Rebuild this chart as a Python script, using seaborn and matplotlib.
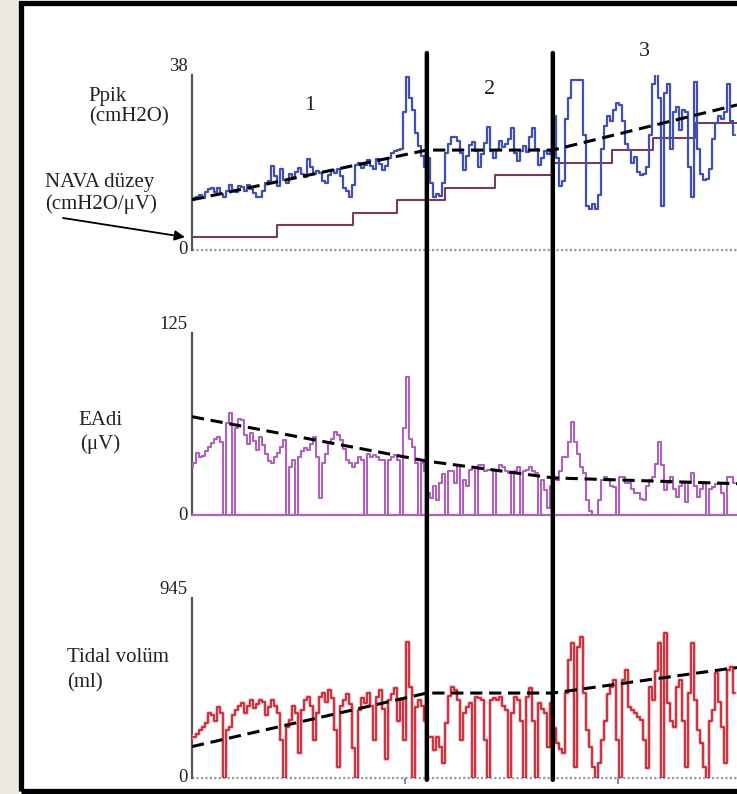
import numpy as np
import pandas as pd
import matplotlib
matplotlib.use("Agg")
import matplotlib.pyplot as plt
import seaborn as sns
from matplotlib.patches import Rectangle, ConnectionPatch

# ---------------- data ----------------
ppik = [10.9, 11.2, 11.5, 12.0, 11.4, 12.5, 13.2, 13.5, 12.6, 13.4,
        12.2, 11.5, 12.8, 14.1, 13.0, 12.6, 13.8, 13.6, 12.9, 14.2,
        13.2, 12.4, 11.6, 11.5, 12.8, 14.6, 15.0, 18.2, 16.0, 14.0,
        17.6, 15.2, 14.5, 16.5, 15.8, 17.0, 17.8, 16.4, 15.8, 19.8,
        18.0, 16.4, 17.2, 16.7, 15.0, 14.6, 16.2, 17.4, 16.8, 17.6,
        16.0, 13.4, 12.8, 11.5, 14.2, 18.5, 18.9, 17.8, 18.4, 19.6,
        18.2, 17.6, 19.8, 18.6, 17.4, 18.2, 20.0, 21.0, 21.4, 21.7,
        22.0, 30.0, 37.6, 33.0, 30.4, 25.5, 22.6, 20.5, 18.0, 20.0,
        14.6, 11.5, 12.2, 11.8, 14.6, 21.0, 23.0, 24.5, 24.5, 23.6,
        21.0, 17.4, 20.4, 22.8, 23.4, 21.5, 18.0, 20.8, 23.2, 26.7,
        21.4, 20.0, 21.8, 23.6, 22.4, 23.0, 24.0, 26.5, 21.0, 19.4,
        21.6, 22.5, 21.2, 24.6, 26.5, 22.0, 18.5, 20.0, 21.6, 20.8,
        21.4, 29.0, 20.0, 14.0, 15.0, 28.5, 33.0, 37.0, 37.0, 37.0,
        37.0, 25.0, 9.5, 9.0, 10.0, 9.0, 12.0, 22.0, 27.0, 29.0,
        28.0, 30.5, 32.0, 31.5, 28.0, 23.0, 21.7, 19.0, 20.2, 17.0,
        16.2, 16.5, 18.0, 25.0, 36.0, 38.5, 33.0, 9.5, 34.0, 36.0,
        22.0, 30.0, 31.0, 26.0, 30.5, 30.0, 18.0, 11.5, 36.5, 22.0,
        16.5, 15.2, 15.5, 17.5, 24.0, 27.6, 29.0, 28.5, 30.0, 36.0,
        28.0, 25.0]

nava_change = [0, 28.3, 53.7, 68.3, 84.3, 101.0, 120.3, 140.0, 153.7, 167.7, 181.7]
nava_level = [2.8, 5.4, 8.0, 10.9, 13.5, 16.3, 18.9, 21.7, 24.3, 27.6, 27.6]

eadi = [33, 36, 42.4, 40, 40.5, 44, 47, 49.5, 52, 53.8,
        50, 0, 63, 70, 0, 60, 66, 65, 55, 49,
        56, 51, 44.5, 53.8, 48, 42, 37, 35.5, 40, 42.4,
        47, 51.5, 0, 33, 38, 0, 40, 44, 46, 44.5,
        49, 53.8, 40, 12, 35.5, 42, 49.2, 52, 57.2, 55,
        51.5, 45, 38, 36, 33, 36, 40, 38, 0, 42,
        40, 41, 40, 38, 37.9, 0, 38, 40, 41, 38,
        0, 60, 95, 52, 46.9, 35.5, 0, 35.5, 30, 15,
        12, 20, 10, 22, 28, 0, 30, 30, 22, 34.4,
        0, 24, 20, 31, 33, 0, 34, 34.4, 30, 31,
        31, 0, 30, 34.4, 33, 30, 28.6, 0, 30, 33.2,
        0, 30, 31, 33.2, 30, 28.6, 0, 24, 17, 5,
        20, 26, 24, 30, 40, 40, 50, 64, 50, 42,
        33, 28.6, 10, 3, 0, 0, 10, 24, 26, 24,
        20, 19.5, 0, 26, 26, 22, 21.7, 18, 15, 14.9,
        11, 10.3, 20, 24, 26.3, 35, 50, 34.4, 17.2, 22,
        26.3, 18, 12.6, 20, 21.7, 9.2, 22, 28.6, 20, 12.6,
        18, 21.7, 0, 18, 19.5, 21, 21.7, 15, 0, 26.3,
        26, 21.7]

tidal = [215, 215, 230, 250, 268, 290, 341, 330, 300, 374,
         340, 0, 250, 268, 330, 357, 380, 394, 340, 380,
         410, 370, 390, 409, 399, 330, 374, 409, 380, 340,
         199, 0, 268, 304, 380, 340, 130, 357, 409, 427,
         380, 200, 340, 427, 444, 400, 462, 420, 250, 60,
         380, 409, 440, 390, 160, 0, 357, 420, 392, 444,
         380, 200, 427, 462, 360, 100, 409, 440, 470, 300,
         409, 199, 714, 478, 0, 374, 409, 380, 300, 217,
         217, 147, 217, 164, 77, 287, 430, 479, 462, 409,
         199, 340, 374, 392, 0, 427, 420, 409, 200, 0,
         409, 420, 409, 427, 380, 357, 0, 340, 427, 409,
         300, 0, 427, 471, 300, 0, 392, 360, 340, 164,
         392, 260, 182, 150, 130, 444, 620, 707, 59, 689,
         742, 444, 250, 164, 60, 0, 77, 200, 300, 440,
         479, 514, 200, 0, 514, 567, 374, 357, 340, 320,
         304, 200, 50, 479, 409, 560, 707, 0, 759, 392,
         300, 269, 479, 514, 300, 60, 444, 707, 409, 250,
         182, 59, 0, 300, 357, 549, 400, 269, 77, 567,
         584, 444]

sample = np.arange(len(ppik))

trend_x = [0, 78.3, 120.3, 181.7]
ppik_trend = [10.9, 21.7, 21.7, 31.5]
eadi_trend = [67.5, 37.0, 25.5, 21.5]
tidal_trend = [165, 446, 446, 580]

phase_bounds = [78.3, 120.3]
phase_labels = ["1", "2", "3"]
x_end = 181.7
x_ticks_bottom = [71, 142]
y_max = [38, 125, 945]

# ---------------- style ----------------
sns.set_theme(style="white")
plt.rcParams['font.family'] = ['Liberation Serif', 'DejaVu Serif']

C_PPIK = '#4050B6'
C_NAVA = '#7A3A5C'
C_EADI = '#AE62BD'
C_TV = '#C21F28'
C_TV_LIGHT = '#F4B3BC'
TXT = '#222222'

W, H = 737, 794
fig = plt.figure(figsize=(W / 100, H / 100), dpi=100)
fig.patch.set_facecolor('white')

def fx(px):
    return px / W

def fy(py):
    return 1 - py / H

# beige margin and black frame
fig.add_artist(Rectangle((0, 0), fx(19), 1, transform=fig.transFigure,
                         facecolor='#ECEAE1', edgecolor='none', zorder=0))
fig.add_artist(Rectangle((fx(20.5), fy(790.5)), 1.2, fy(2.5) - fy(790.5),
                         transform=fig.transFigure, facecolor='none',
                         edgecolor='black', lw=3.8, zorder=10, clip_on=False))

def make_ax(top_px, bottom_px):
    ax = fig.add_axes([fx(192), fy(bottom_px), fx(W) - fx(192), (bottom_px - top_px) / H])
    ax.set_facecolor('none')
    for s in ['top', 'right', 'bottom']:
        ax.spines[s].set_visible(False)
    ax.spines['left'].set_color('#555555')
    ax.spines['left'].set_linewidth(1.6)
    ax.set_xlim(0, x_end)
    ax.set_xticks([])
    return ax

ax1 = make_ax(75, 250)
ax2 = make_ax(333, 515)
ax3 = make_ax(598, 778)

trend_style = dict(color='black', lw=2.2, linestyle=(0, (4, 2.2)), zorder=5)

# --- panel 1: Ppik + NAVA level
sns.lineplot(x=nava_change, y=nava_level, ax=ax1, color=C_NAVA, lw=1.5,
             drawstyle='steps-post', estimator=None, errorbar=None, zorder=3)
sns.lineplot(x=sample, y=ppik, ax=ax1, color=C_PPIK, lw=1.6,
             drawstyle='steps-mid', estimator=None, errorbar=None, zorder=4)
sns.lineplot(x=trend_x, y=ppik_trend, ax=ax1, estimator=None, errorbar=None, **trend_style)
ax1.axhline(0, color='#9A9A9A', lw=1.6, linestyle=(0, (1, 1)), clip_on=False, zorder=2)
ax1.set_ylim(0, y_max[0])

# --- panel 2: EAdi
sns.lineplot(x=sample, y=eadi, ax=ax2, color=C_EADI, lw=1.5,
             drawstyle='steps-mid', estimator=None, errorbar=None, zorder=4)
sns.lineplot(x=trend_x, y=eadi_trend, ax=ax2, estimator=None, errorbar=None, **trend_style)
ax2.axhline(0, color=C_EADI, lw=1.6, clip_on=False, zorder=3)
ax2.set_ylim(0, y_max[1])

# --- panel 3: tidal volume
sns.lineplot(x=sample, y=tidal, ax=ax3, color=C_TV_LIGHT, lw=2.6,
             drawstyle='steps-mid', estimator=None, errorbar=None, zorder=3)
sns.lineplot(x=sample, y=tidal, ax=ax3, color=C_TV, lw=1.2,
             drawstyle='steps-mid', estimator=None, errorbar=None, zorder=4)
sns.lineplot(x=trend_x, y=tidal_trend, ax=ax3, estimator=None, errorbar=None, **trend_style)
ax3.axhline(0, color='#9A9A9A', lw=1.6, linestyle=(0, (1, 1)), clip_on=False, zorder=2)
ax3.set_ylim(0, y_max[2])
ax3.set_xticks(x_ticks_bottom)
ax3.tick_params(axis='x', bottom=True, length=4, width=1.2, color='#777777',
                labelbottom=False, direction='out')

for ax in (ax1, ax2, ax3):
    ax.set_xlabel('')
    ax.set_ylabel('')

# y tick labels (0 and max)
for ax, ym in zip((ax1, ax2, ax3), y_max):
    ax.set_yticks([0, ym])
    ax.set_yticklabels(['0', str(ym)])
    ax.tick_params(axis='y', left=False, length=0, pad=3, labelsize=13.5, labelcolor=TXT)
    labs = ax.get_yticklabels()
    labs[1].set_va('bottom')
    labs[0].set_va('center')
    for lb in labs:
        lb.set_fontfamily(['Liberation Serif'])

# phase separators spanning all panels
for b in phase_bounds:
    con = ConnectionPatch(xyA=(b, (250 - 53) / 175), coordsA=ax1.get_xaxis_transform(),
                          xyB=(b, -0.01), coordsB=ax3.get_xaxis_transform(),
                          color='black', lw=3.2, zorder=20)
    fig.add_artist(con)

# phase numbers centered in each phase
edges = [0] + phase_bounds + [x_end]
label_y = [(250 - 105) / 175, (250 - 90) / 175, (250 - 52) / 175]
for lab, a, b, yy in zip(phase_labels, edges[:-1], edges[1:], label_y):
    ax1.text((a + b) / 2, yy, lab, transform=ax1.get_xaxis_transform(),
             ha='center', va='center', fontsize=16, color=TXT, clip_on=False)

# axis captions
cap = dict(fontsize=15, color=TXT, ha='left', va='center')
fig.text(fx(88), fy(96), 'Ppik', **cap)
fig.text(fx(89), fy(117), '(cmH2O)', **cap)
fig.text(fx(45), fy(183), 'NAVA düzey', **cap)
fig.text(fx(45), fy(204), '(cmH2O/μV)', **cap)
fig.text(fx(78), fy(421), 'EAdi', **cap)
fig.text(fx(80), fy(444), '(μV)', **cap)
fig.text(fx(67), fy(658), 'Tidal volüm', **cap)
fig.text(fx(67), fy(683), '(ml)', **cap)

ax1.annotate('', xy=(-0.013, nava_level[0]), xycoords=ax1.get_yaxis_transform(),
             xytext=(fx(63), fy(218)), textcoords='figure fraction',
             arrowprops=dict(arrowstyle='-|>', color='black', lw=1.3,
                             mutation_scale=15, shrinkA=0, shrinkB=0))

fig.savefig('out.png', dpi=100, facecolor=fig.get_facecolor())
